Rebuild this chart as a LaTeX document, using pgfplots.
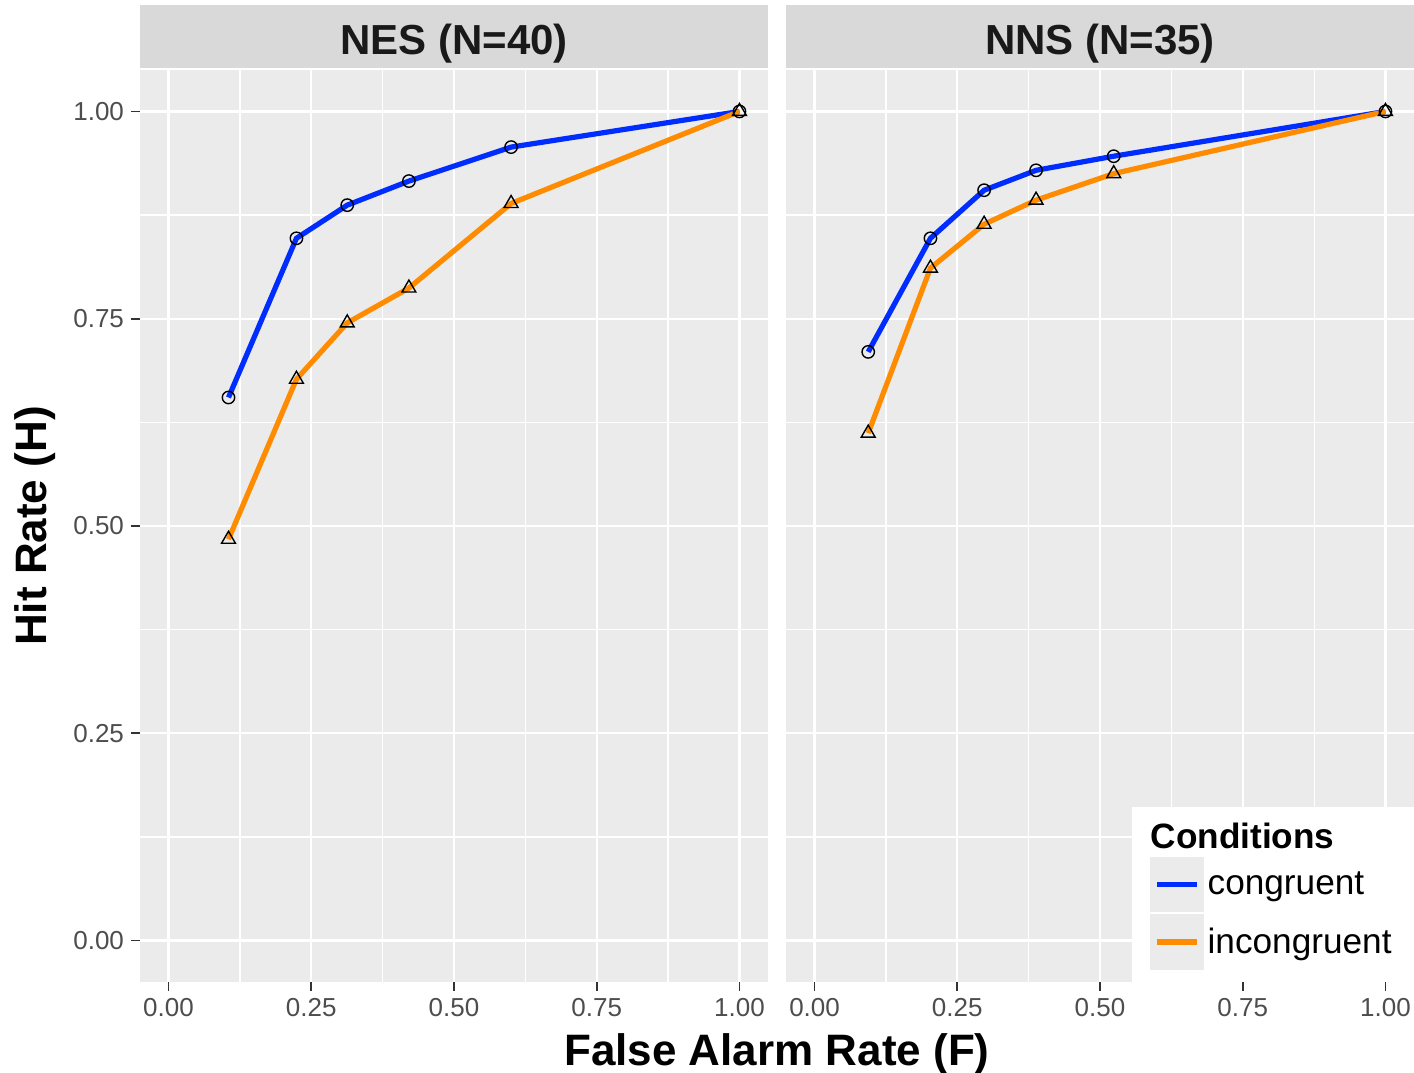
\documentclass[border=0pt]{standalone}
\usepackage{fontspec}
\setmainfont{Liberation Sans}
\usepackage{pgfplots}
\pgfplotsset{compat=1.18}
\definecolor{panelgray}{RGB}{235,235,235}
\definecolor{stripgray}{RGB}{217,217,217}
\definecolor{tickgray}{RGB}{77,77,77}
\definecolor{cblue}{RGB}{0,45,255}
\definecolor{corange}{RGB}{255,140,0}
\pgfplotsset{
  facet/.style={
    scale only axis, width=314pt, height=456pt,
    xmin=-0.05, xmax=1.05, ymin=-0.05, ymax=1.05,
    axis background/.style={fill=panelgray},
    axis line style={draw=none},
    xtick={0,0.25,0.5,0.75,1}, ytick={0,0.25,0.5,0.75,1},
    minor xtick={0.125,0.375,0.625,0.875},
    minor ytick={0.125,0.375,0.625,0.875},
    grid=both,
    major grid style={white, line width=1.2pt},
    minor grid style={white, line width=0.6pt},
    tick align=outside, major tick length=4.5pt, minor tick length=0pt,
    xtick pos=left, ytick pos=left,
    tick style={draw=black!80, line width=0.8pt},
    xticklabel style={font=\fontsize{13}{15}\selectfont, text=tickgray},
    yticklabel style={font=\fontsize{13}{15}\selectfont, text=tickgray},
    /pgf/number format/fixed, /pgf/number format/fixed zerofill,
    /pgf/number format/precision=2, /pgf/number format/assume math mode=true,
    every axis title/.style={at={(rel axis cs:0.5,1)}, anchor=south, yshift=1pt,
      fill=stripgray, minimum width=314pt, minimum height=31.5pt, inner sep=0pt,
      text height=18.5pt, text depth=0pt,
      font=\bfseries\fontsize{21}{24}\selectfont, text=black!90},
    clip=false,
  },
  cline/.style={cblue, line width=2.6pt},
  iline/.style={corange, line width=2.6pt},
  cmark/.style={only marks, mark=o, mark size=3.1pt, mark options={black, line width=0.7pt}},
  imark/.style={only marks, mark=triangle, mark size=4pt, mark options={black, line width=0.7pt}},
}
\begin{document}
\begin{tikzpicture}
\begin{axis}[facet, at={(70pt,45pt)}, anchor=south west,
  title={NES (N=40)},
  ylabel={Hit Rate (H)},
  every axis y label/.style={at={(rel axis cs:-0.1672,0.5)}, rotate=90, anchor=center,
    font=\bfseries\fontsize{22}{26}\selectfont},
  xlabel={False Alarm Rate (F)},
  every axis x label/.style={at={(rel axis cs:1.0143,-0.0790)}, anchor=center,
    font=\bfseries\fontsize{22}{26}\selectfont},
]
\addplot[cline] coordinates {(0.105,0.655) (0.224,0.847) (0.313,0.887) (0.421,0.916) (0.600,0.957) (1.0,1.0)};
\addplot[iline] coordinates {(0.105,0.484) (0.224,0.677) (0.313,0.745) (0.421,0.787) (0.600,0.889) (1.0,1.0)};
\addplot[cmark] coordinates {(0.105,0.655) (0.224,0.847) (0.313,0.887) (0.421,0.916) (0.600,0.957) (1.0,1.0)};
\addplot[imark] coordinates {(0.105,0.484) (0.224,0.677) (0.313,0.745) (0.421,0.787) (0.600,0.889) (1.0,1.0)};
\end{axis}
\begin{axis}[facet, at={(393pt,45pt)}, anchor=south west,
  title={NNS (N=35)},
  yticklabels={}, ytick style={draw=none},
  legend style={at={(1,0)}, anchor=south east, fill=white, draw=none,
    inner xsep=9pt, inner ysep=6pt, row sep=1pt,
    font=\fontsize{17.6}{20}\selectfont, cells={anchor=west}},
  legend image code/.code={\fill[panelgray] (0pt,-12.5pt) rectangle (24pt,12.5pt);
    \draw[#1] (2pt,0pt) -- (22pt,0pt);},
]
\addplot[cline, forget plot] coordinates {(0.094,0.710) (0.203,0.847) (0.297,0.905) (0.388,0.929) (0.524,0.946) (1.0,1.0)};
\addplot[iline, forget plot] coordinates {(0.094,0.612) (0.203,0.811) (0.297,0.864) (0.388,0.893) (0.524,0.925) (1.0,1.0)};
\addplot[cmark, forget plot] coordinates {(0.094,0.710) (0.203,0.847) (0.297,0.905) (0.388,0.929) (0.524,0.946) (1.0,1.0)};
\addplot[imark, forget plot] coordinates {(0.094,0.612) (0.203,0.811) (0.297,0.864) (0.388,0.893) (0.524,0.925) (1.0,1.0)};
\addlegendimage{empty legend}
\addlegendentry{\hspace*{-28.5pt}\bfseries Conditions\rule[-3pt]{0pt}{3pt}}
\addlegendimage{cline}
\addlegendentry{congruent}
\addlegendimage{iline}
\addlegendentry{incongruent}
\end{axis}
\pgfresetboundingbox
\path[use as bounding box] (0pt,0pt) rectangle (707pt,536pt);
\end{tikzpicture}
\end{document}
